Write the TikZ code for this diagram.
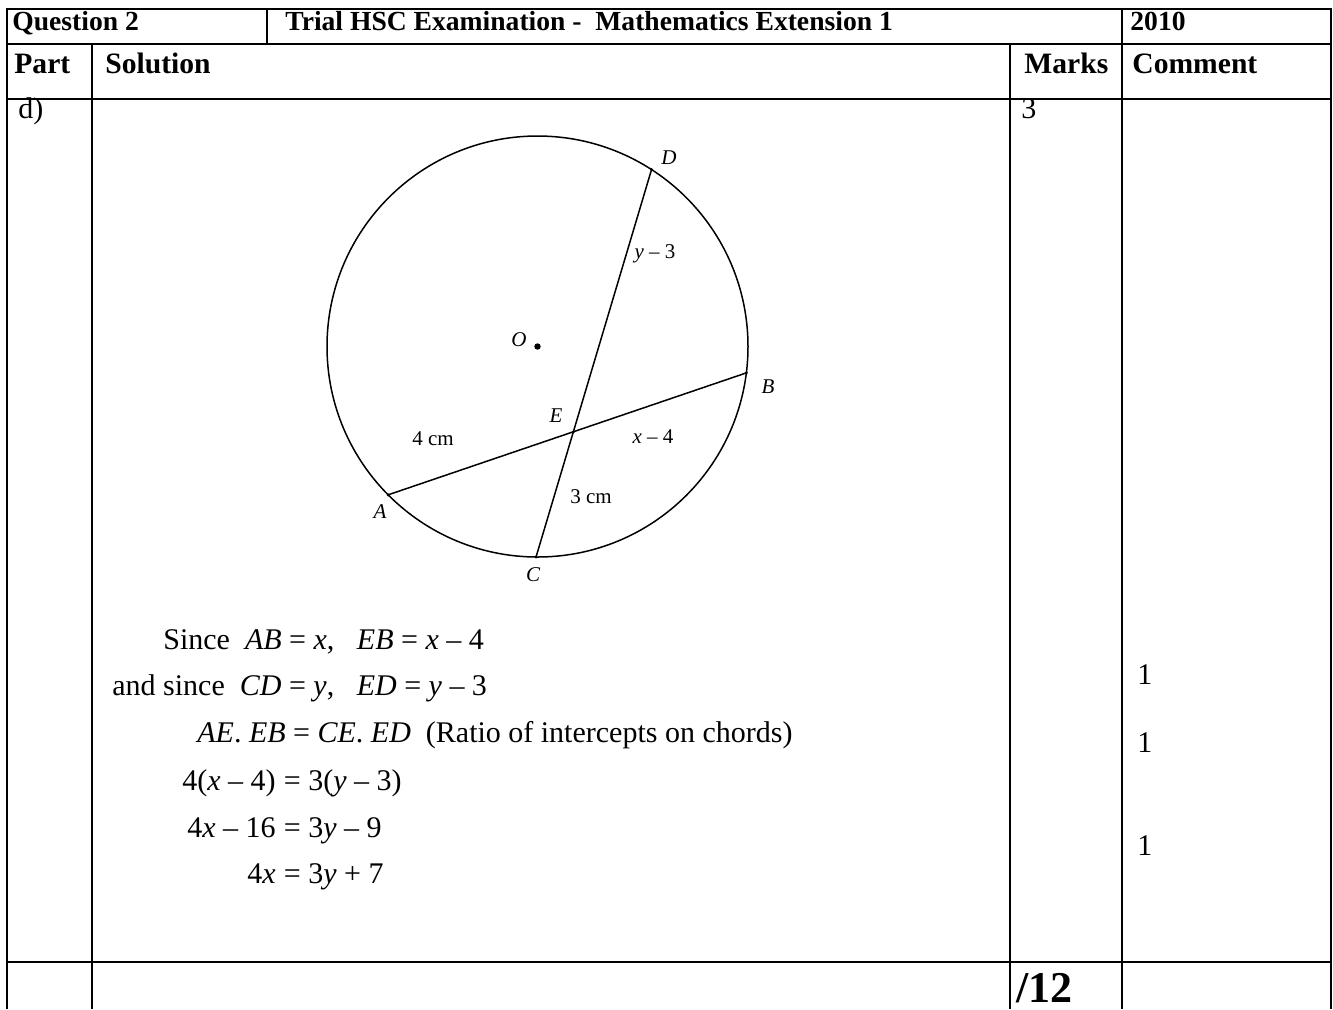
\documentclass[tikz,border=0pt]{standalone}
\usepackage{fontspec}
\setmainfont{Liberation Serif}
\usetikzlibrary{positioning,calc}
\newcommand{\vr}[1]{\textit{#1}}

\begin{document}
\begin{tikzpicture}[
      x=0.5pt, y=-0.5pt,
      rule/.style ={line width=1.35pt, black},
      hdr/.style  ={font=\fontsize{13.8}{15}\selectfont\bfseries,
                    anchor=base west, inner sep=0pt},
      colhd/.style={font=\fontsize{14.8}{16}\selectfont\bfseries,
                    anchor=base west, inner sep=0pt},
      txt/.style  ={font=\fontsize{15}{17}\selectfont,
                    anchor=base west, inner sep=0pt},
      lhs/.style  ={txt, anchor=base east},
      geo/.style  ={line width=0.75pt},
      ptlbl/.style={font=\fontsize{10.5}{12}\selectfont\itshape, inner sep=0pt},
      len/.style  ={font=\fontsize{10.5}{12}\selectfont, inner sep=0pt}
    ]
    \useasboundingbox (0,0) rectangle (1333,1009);
    % --- table rules ---
    \draw[rule] (7,1009) -- (7,9) -- (1331,9) -- (1331,1009);
    \draw[rule] (7,44)  -- (1331,44);
    \draw[rule] (7,99)  -- (1331,99);
    \draw[rule] (7,962) -- (1331,962);
    \draw[rule] (267,9) -- (267,44);
    \draw[rule] (92,44) -- (92,1009);
    \draw[rule] (1010,44) -- (1010,1009);
    \draw[rule] (1122,9) -- (1122,1009);
    % --- headings ---
    \node[hdr] (qn)   at (12,30)   {Question 2};
    \node[hdr] (exam) at (285,30)  {Trial HSC Examination -\ \ Mathematics Extension 1};
    \node[hdr] (yr)   at (1130,30) {2010};
    \node[colhd] (part)  at (14,73)   {Part};
    \node[colhd] (sol)   at (105,73)  {Solution};
    \node[colhd] (marks) at (1024,73) {Marks};
    \node[colhd] (comm)  at (1132,73) {Comment};
    \node[txt] (pd) at (18,118)   {d)};
    \node[txt] (mk) at (1021,118) {3};
    % --- circle and chords ---
    \coordinate (O) at (537.5,346.5);
    \draw[geo] (O) circle[radius=210.5];
    \coordinate (A) at ($(O)+(-224.8:210.5)$);
    \coordinate (B) at ($(O)+(7.2:210.5)$);
    \coordinate (C) at ($(O)+(-269.6:210.5)$);
    \coordinate (D) at ($(O)+(-57.2:210.5)$);
    \coordinate (E) at (intersection of A--B and C--D);
    \draw[geo] (A) -- (B);
    \draw[geo] (C) -- (D);
    \fill (O) circle[radius=3.2];
    \foreach \p in {A,B,C,D,E} \fill (\p) circle[radius=1.6];
    \node[ptlbl] (lo) at (519,340) {O};
    \node[ptlbl] (la) at (380,512) {A};
    \node[ptlbl] (lb) at (768,387) {B};
    \node[ptlbl] (lc) at (533,575) {C};
    \node[ptlbl] (ld) at (669,158) {D};
    \node[ptlbl] (le) at (556,416) {E};
    \node[len] (ey) at (655,254) {\vr{y} – 3};
    \node[len] (ea) at (433,439) {4 cm};
    \node[len] (ex) at (653,437) {\vr{x} – 4};
    \node[len] (ec) at (591,497) {3 cm};
    % --- working ---
    \node[txt] (s1) at (163,649) {Since\ \ \vr{AB} = \vr{x},\ \ \ \vr{EB} = \vr{x} – 4};
    \node[txt] (s2) at (112,695) {and since\ \ \vr{CD} = \vr{y},\ \ \ \vr{ED} = \vr{y} – 3};
    \node[txt] (s3) at (197,742) {\vr{AE}. \vr{EB} = \vr{CE}. \vr{ED}\ \ (Ratio of intercepts on chords)};
    \node[lhs] (s4l) at (276,790) {4(\vr{x} – 4)};
    \node[txt] (s4r) at (276,790) {\ = 3(\vr{y} – 3)};
    \node[lhs] (s5l) at (276,837) {4\vr{x} – 16};
    \node[txt] (s5r) at (276,837) {\ = 3\vr{y} – 9};
    \node[lhs] (s6l) at (276,883) {4\vr{x}};
    \node[txt] (s6r) at (276,883) {\ = 3\vr{y} + 7};
    % --- marks awarded ---
    \node[txt] (c1) at (1137,684) {1};
    \node[txt] (c2) at (1137,752) {1};
    \node[txt] (c3) at (1137,855) {1};
    \node[hdr, font=\fontsize{22}{24}\selectfont\bfseries] (tot) at (1016,1002) {/12};
  \end{tikzpicture}
\end{document}
